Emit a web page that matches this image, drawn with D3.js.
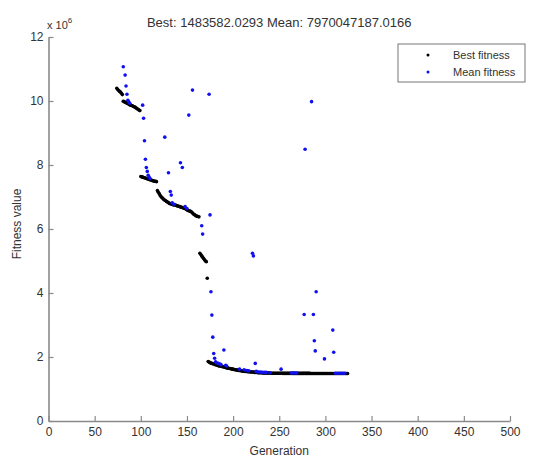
<!DOCTYPE html>
<html>
<head>
  <meta charset="utf-8">
  <script src="https://cdn.jsdelivr.net/npm/d3@7/dist/d3.min.js"></script>
  <style>
    body { margin: 0; background: #fff; }
    text { font-family: "Liberation Sans", Arial, sans-serif; fill: #333; }
  </style>
</head>
<body>
<svg width="544" height="459"></svg>
<script>
  // values in units of 1e6 (axis shows "x 10^6")
  var bestStartGen = 74;
  var bestFitness = [
    10.40, 10.36, 10.33, 10.30, 10.28, 10.24, 10.20, 9.99, 9.98, 9.96,
    9.95, 9.93, 9.92, 9.90, 9.88, 9.87, 9.86, 9.85, 9.83, 9.82,
    9.80, 9.78, 9.76, 9.74, 9.72, 9.70, 7.64, 7.63, 7.62, 7.61,
    7.60, 7.59, 7.58, 7.57, 7.56, 7.55, 7.54, 7.53, 7.52, 7.51,
    7.50, 7.49, 7.49, 7.48, 7.20, 7.15, 7.10, 7.05, 7.01, 6.98,
    6.95, 6.92, 6.90, 6.88, 6.86, 6.84, 6.82, 6.80, 6.79, 6.78,
    6.77, 6.76, 6.75, 6.75, 6.74, 6.73, 6.72, 6.71, 6.70, 6.69,
    6.68, 6.67, 6.66, 6.65, 6.64, 6.62, 6.60, 6.58, 6.57, 6.56,
    6.55, 6.53, 6.50, 6.47, 6.45, 6.43, 6.41, 6.40, 6.39, 6.38,
    5.24, 5.20, 5.16, 5.12, 5.08, 5.04, 5.00, 4.98, 4.46, 1.86,
    1.84, 1.82, 1.81, 1.80, 1.79, 1.78, 1.77, 1.76, 1.75, 1.74,
    1.73, 1.72, 1.72, 1.71, 1.70, 1.70, 1.69, 1.68, 1.67, 1.66,
    1.66, 1.65, 1.64, 1.64, 1.63, 1.62, 1.62, 1.61, 1.60, 1.60,
    1.59, 1.59, 1.58, 1.58, 1.57, 1.57, 1.56, 1.56, 1.56, 1.55,
    1.55, 1.55, 1.54, 1.54, 1.54, 1.53, 1.53, 1.53, 1.53, 1.52,
    1.52, 1.52, 1.52, 1.51, 1.51, 1.51, 1.51, 1.51, 1.50, 1.50,
    1.50, 1.50, 1.50, 1.50, 1.50, 1.50, 1.50, 1.49, 1.49, 1.49,
    1.49, 1.49, 1.49, 1.49, 1.49, 1.49, 1.49, 1.49, 1.49, 1.49,
    1.489, 1.489, 1.489, 1.489, 1.489, 1.489, 1.489, 1.489, 1.489, 1.489,
    1.488, 1.488, 1.488, 1.488, 1.488, 1.488, 1.488, 1.488, 1.488, 1.488,
    1.487, 1.487, 1.487, 1.487, 1.487, 1.487, 1.487, 1.487, 1.487, 1.487,
    1.486, 1.486, 1.486, 1.486, 1.486, 1.486, 1.486, 1.486, 1.486, 1.486,
    1.485, 1.485, 1.485, 1.485, 1.485, 1.485, 1.485, 1.485, 1.485, 1.485,
    1.485, 1.485, 1.485, 1.485, 1.485, 1.484, 1.484, 1.484, 1.484, 1.484,
    1.484, 1.484, 1.484, 1.484, 1.484, 1.484, 1.484, 1.484, 1.484, 1.484,
    1.4836
  ];

  // mean fitness is mostly far above 12e6 (clipped); only visible generations listed
  var meanGens = [
    81, 83, 84, 85, 86, 87, 88,
    102, 103, 104, 105, 106, 107, 108, 109, 110,
    126, 130, 132, 133, 134, 136, 143, 145, 148, 150, 152, 156,
    166, 167, 174, 175, 176, 177, 178, 179, 180, 181, 182, 184, 186, 187, 190, 192, 193,
    207, 212, 215, 217, 221, 222, 224, 225, 226, 228, 230, 232, 234, 236,
    240, 252, 263, 265, 267, 269, 277, 278, 285, 287, 288, 289, 290,
    299, 308, 309, 311, 313, 315, 317, 319, 321
  ];
  var meanFitness = [
    11.07, 10.81, 10.47, 10.21, 10.02, 9.97, 9.93,
    9.87, 9.46, 8.76, 8.18, 7.92, 7.80, 7.68, 7.62, 7.58,
    8.87, 7.76, 7.17, 7.06, 6.82, 6.77, 8.07, 7.92, 6.70, 6.64, 9.56, 10.34,
    6.10, 5.84, 10.21, 6.44, 4.04, 3.31, 2.62, 2.11, 1.96, 1.85, 1.82, 1.80, 1.78, 1.76, 2.22, 1.74, 1.72,
    1.62, 1.60, 1.58, 1.57, 5.24, 5.16, 1.80, 1.55, 1.54, 1.53, 1.53, 1.52, 1.52, 1.52,
    1.51, 1.62, 1.50, 1.50, 1.50, 1.50, 3.33, 8.49, 9.98, 3.33, 2.51, 2.19, 4.04,
    1.94, 2.84, 2.15, 1.49, 1.49, 1.49, 1.49, 1.49, 1.49
  ];

  var xTicks = [0, 50, 100, 150, 200, 250, 300, 350, 400, 450, 500];
  var yTicks = [0, 2, 4, 6, 8, 10, 12];
  var titleText = "Best: 1483582.0293 Mean: 7970047187.0166";
  var legendLabels = ["Best fitness", "Mean fitness"];
  var seriesColors = ["#000000", "#1010f0"];

  var svg = d3.select("svg");
  var plotLeft = 48.5, plotRight = 510, plotTop = 37, plotBottom = 421;

  var x = d3.scaleLinear().domain([0, 500]).range([plotLeft, plotRight]);
  var y = d3.scaleLinear().domain([0, 12]).range([plotBottom, plotTop]);

  var axisColor = "#8a8a8a";

  var gx = svg.append("g")
      .attr("transform", "translate(0," + plotBottom + ")")
      .call(d3.axisBottom(x).tickValues(xTicks).tickSizeInner(-5).tickSizeOuter(0).tickPadding(6));
  var gy = svg.append("g")
      .attr("transform", "translate(" + plotLeft + ",0)")
      .call(d3.axisLeft(y).tickValues(yTicks).tickSizeInner(-5).tickSizeOuter(0).tickPadding(5));

  [gx, gy].forEach(function (g) {
    g.select(".domain").attr("stroke", axisColor).attr("stroke-width", 1.6);
    g.selectAll(".tick line").attr("stroke", axisColor).attr("stroke-width", 1.2);
    g.selectAll(".tick text")
        .attr("fill", "#444")
        .style("font-family", "'Liberation Sans', Arial, sans-serif")
        .style("font-size", "12px");
  });

  // exponent label
  var expo = svg.append("text").attr("x", 47).attr("y", 29).style("font-size", "11px").attr("fill", "#444");
  expo.append("tspan").text("x 10");
  expo.append("tspan").attr("dy", -6).style("font-size", "8px").text("6");

  svg.append("text")
      .attr("x", (plotLeft + plotRight) / 2).attr("y", 27)
      .attr("text-anchor", "middle")
      .style("font-size", "13px")
      .text(titleText);

  svg.append("text")
      .attr("x", (plotLeft + plotRight) / 2).attr("y", 455)
      .attr("text-anchor", "middle")
      .style("font-size", "12px")
      .text("Generation");

  svg.append("text")
      .attr("transform", "translate(21," + ((plotTop + plotBottom) / 2 - 5) + ") rotate(-90)")
      .attr("text-anchor", "middle")
      .style("font-size", "12px")
      .text("Fitness value");

  var plot = svg.append("g");

  plot.selectAll("circle.best").data(bestFitness).enter()
      .append("circle")
      .attr("class", "best")
      .attr("cx", function (d, i) { return x(bestStartGen + i); })
      .attr("cy", function (d) { return y(d); })
      .attr("r", 1.8)
      .attr("fill", seriesColors[0]);

  plot.selectAll("circle.mean").data(meanFitness).enter()
      .append("circle")
      .attr("class", "mean")
      .attr("cx", function (d, i) { return x(meanGens[i]); })
      .attr("cy", function (d) { return y(d); })
      .attr("r", 1.8)
      .attr("fill", seriesColors[1]);

  // legend
  var legend = svg.append("g").attr("transform", "translate(398,44)");
  legend.append("rect")
      .attr("width", 127).attr("height", 38)
      .attr("fill", "#fff").attr("stroke", "#777").attr("stroke-width", 1);
  legendLabels.forEach(function (label, i) {
    legend.append("circle")
        .attr("cx", 30).attr("cy", 11 + i * 17)
        .attr("r", 1.5).attr("fill", seriesColors[i]);
    legend.append("text")
        .attr("x", 55).attr("y", 15 + i * 17)
        .style("font-size", "11px")
        .text(label);
  });
</script>
</body>
</html>
